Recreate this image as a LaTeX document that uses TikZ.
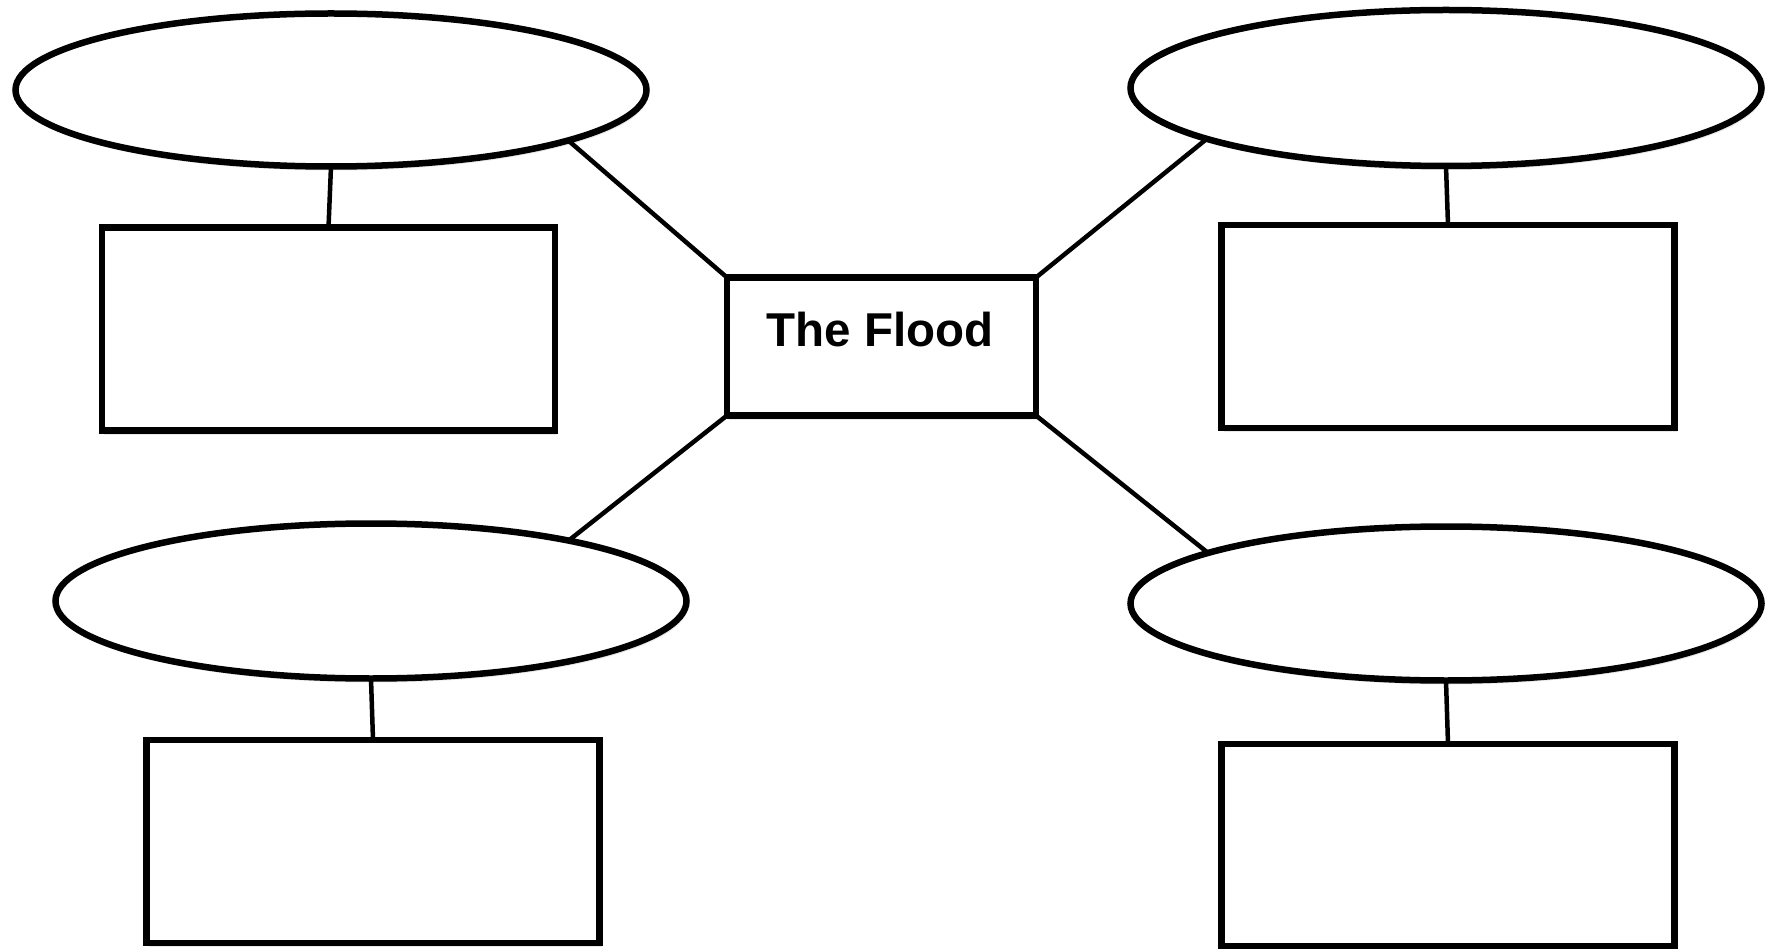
\documentclass[tikz,border=0pt]{standalone}
\usepackage{fontspec}
\setmainfont{Liberation Sans}
\usetikzlibrary{shapes.geometric,shadows}
\begin{document}
\begin{tikzpicture}[x=1pt,y=-1pt,
  shp/.style={draw=black,line width=6.5pt,fill=white,inner sep=0pt,outer sep=0pt,
    drop shadow={opacity=0.18,shadow xshift=2pt,shadow yshift=-4pt}},
  oval/.style={shp,ellipse,minimum width=631pt,minimum height=153pt},
  rbox/.style={shp,rectangle,minimum width=453pt,minimum height=203pt},
  link/.style={draw=black,line width=4.5pt}]
\useasboundingbox (0,0) rectangle (1767,949);
\node[rbox,minimum width=309pt,minimum height=138pt] (c) at (881.5,346.5) {};
\node[oval] (tlE) at (331,90) {};
\node[oval,minimum height=156pt] (trE) at (1446,88) {};
\node[oval,minimum height=155pt] (blE) at (371,601) {};
\node[oval,minimum height=154pt] (brE) at (1446,603.5) {};
\node[rbox] (tlR) at (328.5,329) {};
\node[rbox] (trR) at (1448,326.5) {};
\node[rbox] (blR) at (373,841.5) {};
\node[rbox,minimum height=202pt] (brR) at (1448,845) {};
\node[font=\fontsize{47.5}{56}\selectfont\bfseries,anchor=base,inner sep=0pt] (ttl) at (880,347) {The Flood};
\draw[link] (tlE.-12) -- (c.north west);
\draw[link] (trE.-168) -- (c.north east);
\draw[link] (blE.17) -- (c.south west);
\draw[link] (brE.168) -- (c.south east);
\draw[link] (tlE.south) -- (tlR.north);
\draw[link] (trE.south) -- (trR.north);
\draw[link] (blE.south) -- (blR.north);
\draw[link] (brE.south) -- (brR.north);
\end{tikzpicture}
\end{document}
